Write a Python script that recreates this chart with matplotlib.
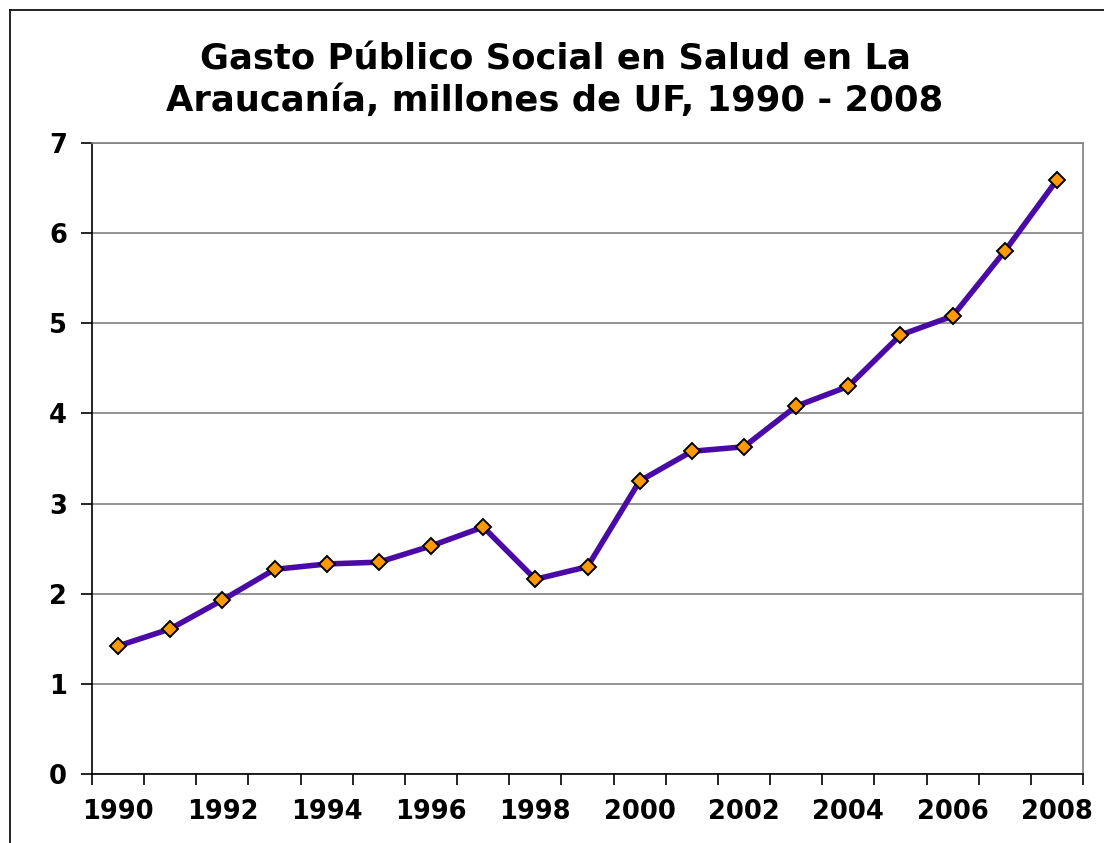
import matplotlib.pyplot as plt
from matplotlib.lines import Line2D

# data
years = list(range(1990, 2009))
gasto = [1.42, 1.61, 1.93, 2.27, 2.33, 2.35, 2.53, 2.74, 2.16, 2.30,
         3.25, 3.58, 3.63, 4.08, 4.30, 4.87, 5.08, 5.80, 6.59]
tick_years = [str(y) if y % 2 == 0 else '' for y in years]

plt.rcParams['font.family'] = ['DejaVu Sans']

W, H = 1104, 843
fig = plt.figure(figsize=(W / 100, H / 100), dpi=100)
ax = fig.add_axes([92 / W, 1 - 774 / H, (1083 - 92) / W, (774 - 143) / H])

x = [i + 0.5 for i in range(len(years))]
ax.plot(x, gasto, color='#4A0AA6', linewidth=4.0, marker='D', markersize=8,
        markerfacecolor='#FF9900', markeredgecolor='black', markeredgewidth=1.4,
        zorder=3)

ax.set_xlim(0, len(years))
ax.set_ylim(0, 7)
ax.set_yticks(range(0, 8))
ax.yaxis.grid(True, color='#808080', linewidth=1.2)
ax.set_axisbelow(True)

ax.set_xticks(range(len(years) + 1))
ax.set_xticklabels([])
ax.set_xticks(x, minor=True)
ax.set_xticklabels(tick_years, minor=True)
ax.tick_params(axis='x', which='minor', length=0, pad=18, labelsize=18.5)
ax.tick_params(axis='x', which='major', length=8, width=1.2, direction='out')
ax.tick_params(axis='y', length=8, width=1.2, direction='out', pad=10, labelsize=18.5)
for lab in ax.get_xticklabels(minor=True) + ax.get_yticklabels():
    lab.set_fontweight('bold')

ax.spines['top'].set_color('#808080')
ax.spines['right'].set_color('#808080')
ax.spines['left'].set_color('black')
ax.spines['bottom'].set_color('black')
for s in ax.spines.values():
    s.set_linewidth(1.2)

fig.text(555 / W, 1 - 80 / H, 'Gasto Público Social en Salud en La\nAraucanía, millones de UF, 1990 - 2008',
         ha='center', va='center', fontsize=25.5, fontweight='bold', linespacing=1.28)

# outer chart border
fig.add_artist(Line2D([10 / W, 10 / W], [0, 1 - 10 / H], color='black', linewidth=1.2))
fig.add_artist(Line2D([10 / W, 1], [1 - 10 / H, 1 - 10 / H], color='black', linewidth=1.2))

fig.savefig('out.png', dpi=100)
